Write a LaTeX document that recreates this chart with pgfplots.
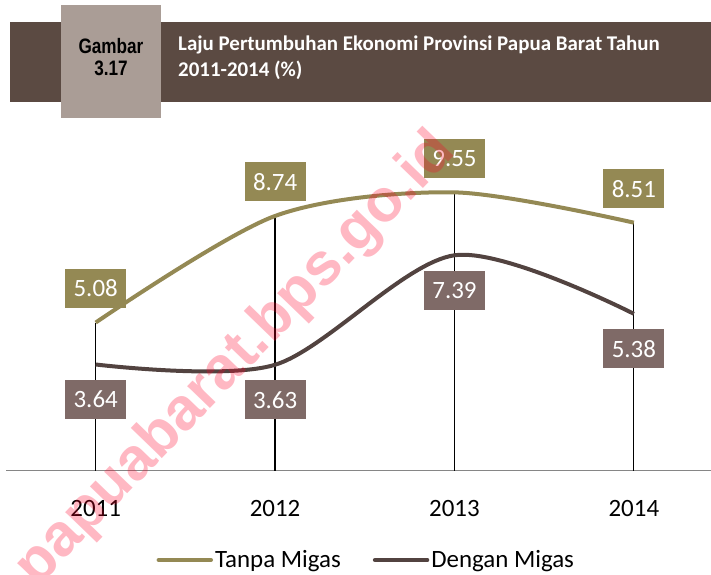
\documentclass[border=0pt]{standalone}
\usepackage{pgfplots}
\pgfplotsset{compat=1.18}
\usepackage{pgfplotstable}
\usepackage{fontspec}
\setmainfont{Carlito}
\newfontfamily\narrowfont[FakeStretch=0.82]{Liberation Sans}
\newfontfamily\wmfont{Liberation Sans}
\definecolor{band}{RGB}{91,74,66}
\definecolor{gbox}{RGB}{170,157,150}
\definecolor{olivel}{RGB}{148,137,84}
\definecolor{brownl}{RGB}{82,67,64}
\definecolor{brownbox}{RGB}{127,106,103}
\definecolor{axisgray}{RGB}{134,134,134}
\definecolor{wm}{RGB}{255,0,40}
\pgfplotstableread{
x y lab
0 5.08 5.08
1 8.74 8.74
2 9.55 9.55
3 8.51 8.51
}\tanpa
\pgfplotstableread{
x y lab
0 3.64 3.64
1 3.63 3.63
2 7.39 7.39
3 5.38 5.38
}\dengan
\begin{document}
\begin{tikzpicture}
\useasboundingbox (0,0) rectangle (711bp,-575bp);
\fill[band] (10bp,-22bp) rectangle (711bp,-102bp);
\fill[gbox] (61bp,-5bp) rectangle (161bp,-118bp);
\node[font=\narrowfont\bfseries\fontsize{21}{23}\selectfont, align=center, inner sep=0pt] at (111bp,-57bp) {Gambar\\3.17};
\node[anchor=base west, text=white, inner sep=0pt, font=\bfseries\fontsize{21}{24}\selectfont] at (178bp,-50bp) {Laju Pertumbuhan Ekonomi Provinsi Papua Barat Tahun};
\node[anchor=base west, text=white, inner sep=0pt, font=\bfseries\fontsize{21}{24}\selectfont] at (178bp,-76bp) {2011-2014 (\%)};
\begin{axis}[
  at={(6bp,-470.5bp)}, anchor=south west,
  scale only axis, width=705bp, height=349.5bp,
  xmin=-0.5, xmax=3.43, ymin=0, ymax=12,
  axis y line=none, axis x line*=bottom,
  x axis line style={-, draw=axisgray, line width=1.5bp},
  xtick={0,1,2,3}, xticklabels={2011,2012,2013,2014},
  major tick length=0pt,
  xticklabel style={anchor=center, yshift=-37.5bp, font=\fontsize{25}{30}\selectfont},
  clip=false,
  legend style={at={(0.511,-0.256)}, anchor=center, draw=none, fill=none,
    legend columns=2, font=\fontsize{25}{30}\selectfont,
    /tikz/every even column/.append style={column sep=30bp}},
  legend image code/.code={\draw[#1, line width=4.5bp, line cap=round] (0bp,0bp) -- (52bp,0bp);},
]
\addplot[ycomb, black, line width=1.2bp, forget plot] table[x=x,y=y] {\tanpa};
\addplot[olivel, line width=4bp, smooth, mark=none,
  nodes near coords, point meta=explicit symbolic,
  every node near coord/.style={fill=olivel, text=white, minimum width=61bp, minimum height=39bp, inner sep=0pt, anchor=center, yshift=34bp, font=\fontsize{25}{30}\selectfont}]
  table[x=x,y=y,meta=lab] {\tanpa};
\addlegendentry{Tanpa Migas}
\addplot[brownl, line width=4bp, smooth, mark=none,
  nodes near coords, point meta=explicit symbolic,
  every node near coord/.style={fill=brownbox, text=white, minimum width=61bp, minimum height=39bp, inner sep=0pt, anchor=center, yshift=-35bp, font=\fontsize{25}{30}\selectfont}]
  table[x=x,y=y,meta=lab] {\dengan};
\addlegendentry{Dengan Migas}
\end{axis}
\node[rotate=46, font=\wmfont\bfseries\fontsize{60}{62}\selectfont, text=wm, text opacity=0.28, inner sep=0pt] at (236bp,-360bp) {papuabarat.bps.go.id};
\end{tikzpicture}
\end{document}
